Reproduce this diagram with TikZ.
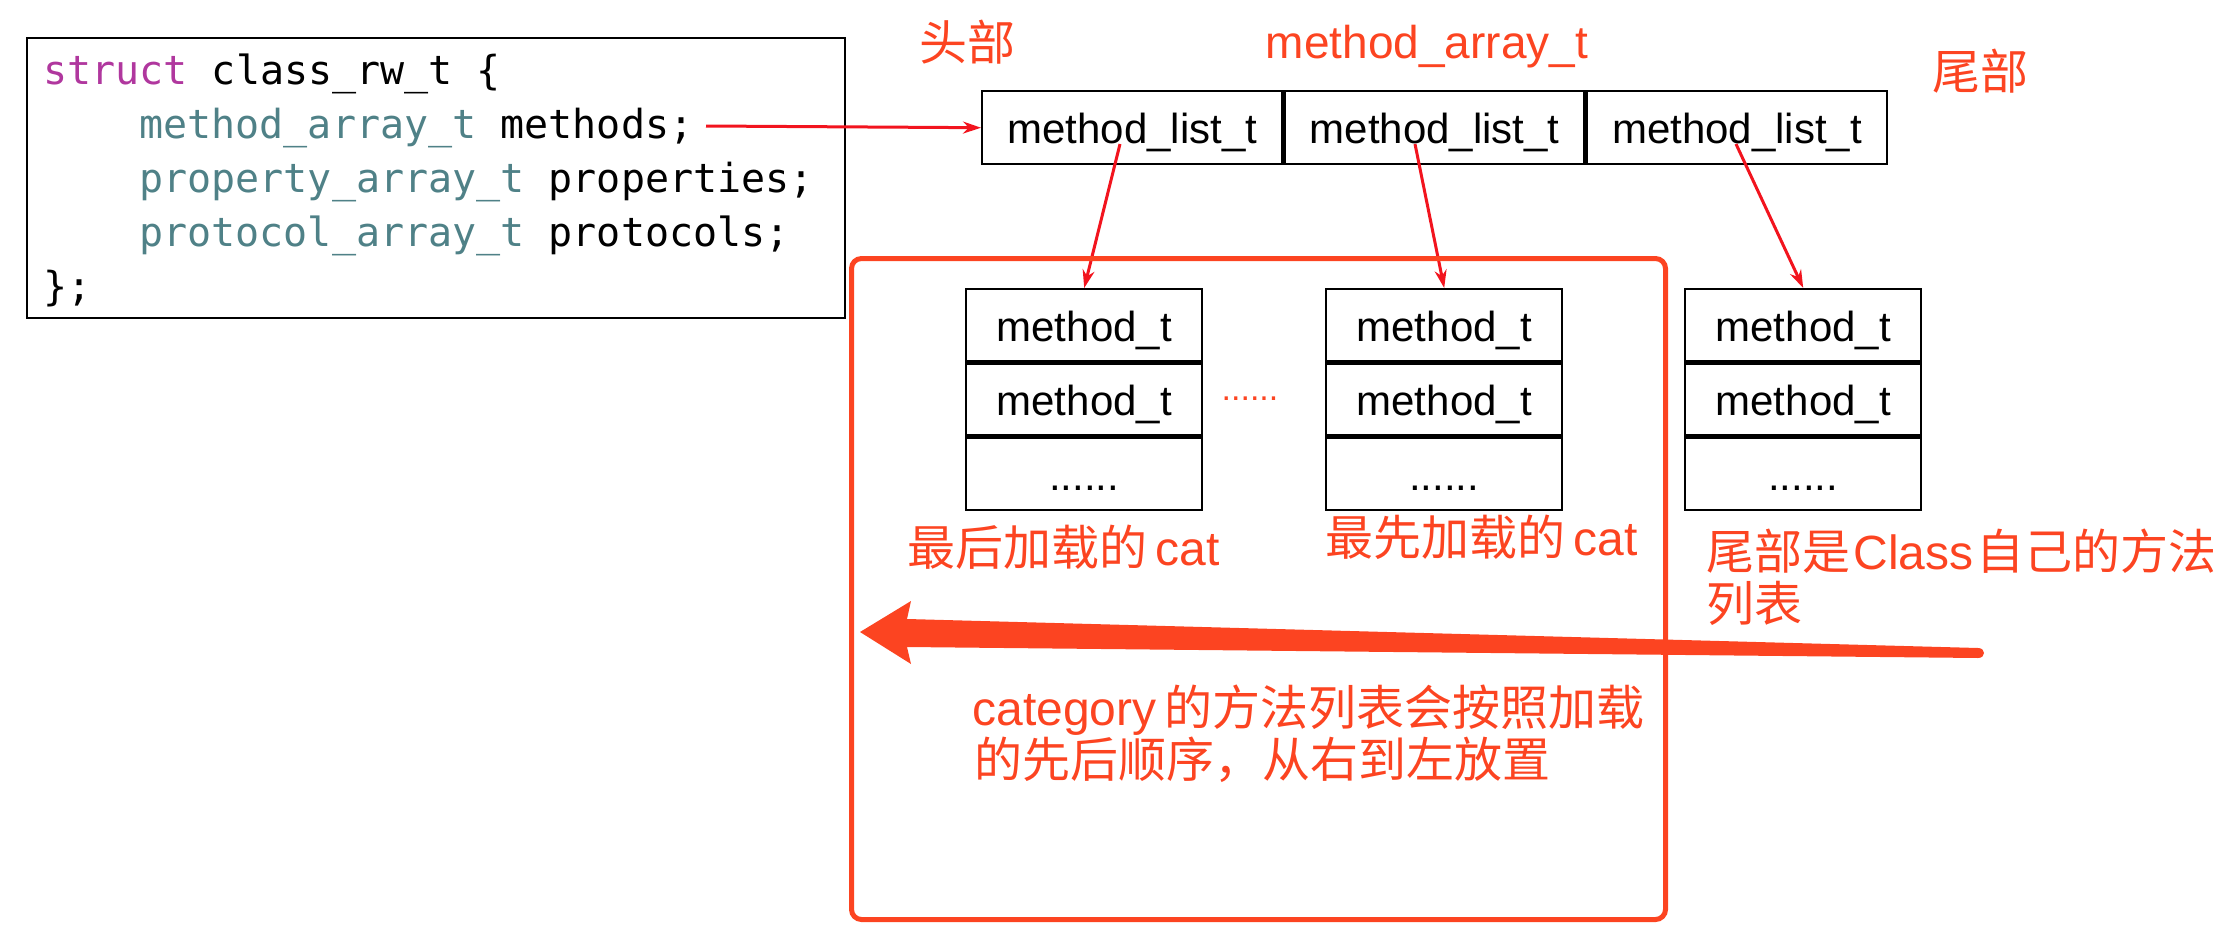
\documentclass[tikz,border=0pt]{standalone}
\usepackage{fontspec}
\setmainfont{Liberation Sans}
\newfontfamily\cjk{Noto Sans CJK SC}
\newfontfamily\codefont{DejaVu Sans Mono}
\usetikzlibrary{arrows.meta}
\definecolor{kwc}{HTML}{B0379E}
\definecolor{tyc}{HTML}{4F8187}
\definecolor{ared}{HTML}{F2141E}
\definecolor{ored}{HTML}{FC4421}
\begin{document}
\begin{tikzpicture}[x=0.5pt,y=-0.5pt,
 codeline/.style={anchor=base west, inner sep=0, font=\codefont\fontsize{20pt}{24pt}\selectfont},
 cell/.style={draw, line width=1.2pt, anchor=north west, minimum width=150pt, inner xsep=0, inner ysep=0, text height=26pt, text depth=10.5pt, font=\fontsize{21pt}{25pt}\selectfont},
 mrow/.style={draw, line width=1.2pt, anchor=north west, minimum width=118pt, inner xsep=0, inner ysep=0, text height=26pt, text depth=10pt, font=\fontsize{21pt}{25pt}\selectfont},
 lbl/.style={text=ored, inner sep=0, text height=21pt, text depth=3pt, font=\fontsize{24pt}{28pt}\selectfont},
 thin/.style={draw=ared, line width=1.5pt, -{Stealth[length=9pt,width=6pt]}},
]
\useasboundingbox (0,0) rectangle (2240,942);

% code box
\node[draw, line width=1pt, anchor=north west, minimum width=409pt, minimum height=140pt, inner sep=0] (code) at (26,37) {};
\node[codeline] (l1) at (43,84) {\textcolor{kwc}{struct} class\_rw\_t \{};
\node[codeline] (l2) at (139,138) {\textcolor{tyc}{method\_array\_t} methods;};
\node[codeline] (l3) at (139,192) {\textcolor{tyc}{property\_array\_t} properties;};
\node[codeline] (l4) at (139,246) {\textcolor{tyc}{protocol\_array\_t} protocols;};
\node[codeline] (l5) at (43,300) {\};};

% method_array_t cells
\node[cell] (c1) at (981,90) {method\_list\_t};
\node[cell] (c2) at (c1.north east) {method\_list\_t};
\node[cell] (c3) at (c2.north east) {method\_list\_t};

% top labels
\node[lbl] (head) at (967,43) {\cjk 头部};
\node[lbl, text height=, text depth=, font=\fontsize{23pt}{27pt}\selectfont, anchor=base] (arrlbl) at (1427,58) {method\_array\_t};
\node[lbl] (tail) at (1980,71) {\cjk 尾部};

% method_t boxes
\node[mrow] (a1) at (965,288) {method\_t};
\node[mrow] (a2) at (a1.south west) {method\_t};
\node[mrow] (a3) at (a2.south west) {......};
\node[mrow] (b1) at (1325,288) {method\_t};
\node[mrow] (b2) at (b1.south west) {method\_t};
\node[mrow] (b3) at (b2.south west) {......};
\node[mrow] (d1) at (1684,288) {method\_t};
\node[mrow] (d2) at (d1.south west) {method\_t};
\node[mrow] (d3) at (d2.south west) {......};

\node[text=ored, inner sep=0, anchor=base, font=\fontsize{17pt}{20pt}\selectfont] (mid) at (1250,400) {......};

% thin arrows
\coordinate (ms) at (706,126);
\draw[thin] (ms) -- (c1.west);
\coordinate (s1) at (1120,144);
\coordinate (s2) at (1415,144);
\coordinate (s3) at (1736,144);
\draw[thin] (s1) -- (a1.north);
\draw[thin] (s2) -- (b1.north);
\draw[thin] (s3) -- (d1.north);

% group box
\node[draw=ored, line width=2.5pt, rounded corners=5pt, minimum width=407pt, minimum height=330.5pt, anchor=north west, inner sep=0] (group) at (849,256) {};

% labels
\node[lbl, anchor=west] (lastcat) at (907,547) {{\cjk 最后加载的}\,cat};
\node[lbl, anchor=west] (firstcat) at (1325,537) {{\cjk 最先加载的}\,cat};
\node[lbl, anchor=west] (own1) at (1706,551) {{\cjk 尾部是}\kern1.5pt Class\kern1.5pt{\cjk 自己的方法}};
\node[lbl, anchor=west] (own2) at (1706,603) {\cjk 列表};
\node[lbl, anchor=west] (cat1) at (972,707) {category\,{\cjk 的方法列表会按照加载}};
\node[lbl, anchor=west] (cat2) at (974,759) {\cjk 的先后顺序，从右到左放置};

% big arrow
\fill[ored] (860,632) -- (911,601) -- (907,619) -- (1978,648) .. controls (1986,648) and (1986,658) .. (1978,658) -- (907,647) -- (911,664) -- cycle;
\end{tikzpicture}
\end{document}
